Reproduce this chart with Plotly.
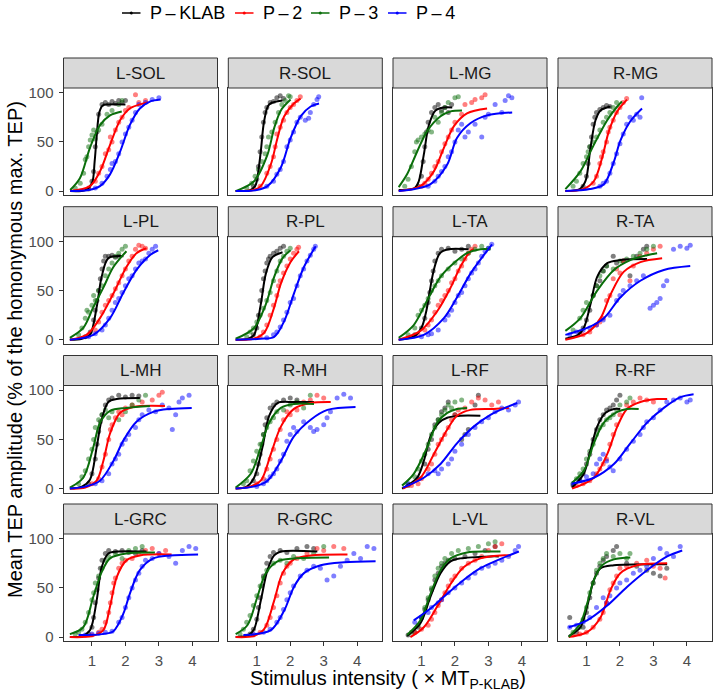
import plotly.graph_objects as go

PANELS = ["L-SOL", "R-SOL", "L-MG", "R-MG",
          "L-PL", "R-PL", "L-TA", "R-TA",
          "L-MH", "R-MH", "L-RF", "R-RF",
          "L-GRC", "R-GRC", "L-VL", "R-VL"]
SERIES = ["P\u2009\u2013\u2009KLAB", "P\u2009\u2013\u20092", "P\u2009\u2013\u20093", "P\u2009\u2013\u20094"]
COLORS = ["#000000", "#FF0000", "#0A6E0A", "#0000FF"]
X_TICKS = [1, 2, 3, 4]
Y_TICKS = [0, 50, 100]

# fitted curves (x, y)
CURVE_KLAB = {
    "L-SOL": [(0.35,0),(0.8,1),(1.0,8),(1.08,30),(1.14,55),(1.22,80),(1.32,87),(1.5,88),(2.0,88)],
    "R-SOL": [(0.37,0),(0.8,1),(0.95,5),(1.0,10),(1.12,40),(1.22,71),(1.37,88),(1.77,92)],
    "L-MG": [(0.32,1),(0.8,3),(0.92,10),(1.07,37),(1.22,67),(1.42,82),(1.67,85),(1.92,85)],
    "R-MG": [(0.37,0),(0.8,2),(0.97,10),(1.12,44),(1.27,72),(1.42,82),(1.72,86)],
    "L-PL": [(0.34,0),(0.7,1),(0.94,5),(1.14,33),(1.29,64),(1.49,83),(1.94,85)],
    "R-PL": [(0.37,0),(0.75,1),(0.92,5),(1.12,36),(1.27,67),(1.47,84),(1.77,89)],
    "L-TA": [(0.32,0),(0.8,4),(1.0,12),(1.15,30),(1.25,50),(1.37,71),(1.55,88),(1.8,92),(2.41,92)],
    "R-TA": [(0.37,1),(0.75,5),(0.92,12),(1.12,36),(1.32,64),(1.62,78),(2.01,81),(2.81,82)],
    "L-MH": [(0.34,0),(0.7,2),(0.94,9),(1.14,42),(1.29,70),(1.49,88),(1.74,91),(2.43,92)],
    "R-MH": [(0.37,0),(0.7,2),(0.92,11),(1.17,42),(1.37,74),(1.62,87),(2.11,88),(2.71,88)],
    "L-RF": [(0.42,0),(0.87,11),(1.07,28),(1.27,53),(1.52,67),(1.77,72),(2.16,74),(2.76,74)],
    "R-RF": [(0.57,1),(0.92,15),(1.12,39),(1.32,63),(1.57,77),(1.82,81),(2.01,81)],
    "L-GRC": [(0.34,0),(0.7,1),(0.94,7),(1.14,37),(1.29,71),(1.49,85),(1.74,87),(2.63,87)],
    "R-GRC": [(0.37,0),(0.75,2),(0.92,8),(1.12,37),(1.32,68),(1.52,83),(1.72,87),(2.81,87)],
    "L-VL": [(0.57,1),(0.97,14),(1.27,41),(1.57,65),(1.87,77),(2.16,80),(3.06,82),(3.31,82)],
    "R-VL": [(0.47,1),(0.82,10),(1.02,31),(1.22,58),(1.42,70),(1.82,73),(3.41,74)],
}
CURVE_P2 = {
    "L-SOL": [(0.35,0),(0.94,5),(1.24,20),(1.54,47),(1.84,72),(2.13,84),(2.53,89),(2.68,90)],
    "R-SOL": [(0.37,0),(0.9,1),(1.12,5),(1.42,27),(1.62,54),(1.82,76),(2.11,89),(2.31,94)],
    "L-MG": [(0.32,0),(0.97,5),(1.37,20),(1.67,44),(1.97,66),(2.36,79),(2.96,84)],
    "R-MG": [(0.37,0),(0.9,2),(1.22,10),(1.47,34),(1.67,61),(1.92,81),(2.21,93)],
    "L-PL": [(0.34,0),(0.84,5),(1.24,22),(1.64,47),(2.03,74),(2.33,88),(2.63,93)],
    "R-PL": [(0.37,0),(0.9,1),(1.22,7),(1.52,33),(1.72,57),(2.01,79),(2.26,90)],
    "L-TA": [(0.32,0),(0.97,9),(1.47,29),(1.87,53),(2.16,74),(2.46,90),(2.56,92)],
    "R-TA": [(0.37,0),(1.02,7),(1.42,22),(1.72,46),(2.11,69),(2.61,79),(3.26,83)],
    "L-MH": [(0.34,0),(0.8,1),(1.14,8),(1.34,28),(1.54,56),(1.84,77),(2.23,83),(3.18,84)],
    "R-MH": [(0.37,0),(0.8,2),(1.12,8),(1.42,35),(1.72,63),(2.11,81),(2.61,87),(3.21,88)],
    "L-RF": [(0.45,0),(0.97,11),(1.37,35),(1.77,60),(2.06,74),(2.46,80),(3.16,81),(3.61,82)],
    "R-RF": [(0.57,0),(1.22,11),(1.62,35),(1.92,63),(2.21,81),(2.61,88),(3.11,91),(3.41,91)],
    "L-GRC": [(0.34,0),(1.0,1),(1.34,7),(1.54,31),(1.74,61),(2.03,78),(2.43,83),(3.38,84)],
    "R-GRC": [(0.37,0),(0.9,1),(1.22,8),(1.52,37),(1.77,65),(2.11,79),(2.61,83),(3.71,84)],
    "L-VL": [(0.67,0),(1.07,10),(1.47,31),(1.87,54),(2.26,71),(2.76,80),(3.36,83),(3.66,83)],
    "R-VL": [(0.47,0),(1.02,5),(1.42,20),(1.72,48),(2.01,65),(2.51,73),(3.41,75)],
}
CURVE_P3 = {
    "L-SOL": [(0.35,1),(0.64,13),(0.94,44),(1.24,67),(1.54,77),(1.89,81)],
    "R-SOL": [(0.37,0),(0.92,10),(1.32,37),(1.52,64),(1.72,82),(2.01,93)],
    "L-MG": [(0.32,4),(0.57,17),(0.87,40),(1.17,61),(1.57,76),(1.87,81),(2.21,82)],
    "R-MG": [(0.37,2),(0.82,20),(1.22,47),(1.62,72),(1.92,86),(2.06,91)],
    "L-PL": [(0.34,2),(0.74,12),(1.04,33),(1.34,53),(1.64,74),(2.03,90)],
    "R-PL": [(0.37,1),(0.92,12),(1.27,36),(1.52,64),(1.77,83),(2.01,91)],
    "L-TA": [(0.32,2),(0.77,15),(1.17,40),(1.57,64),(1.97,78),(2.36,88),(2.76,92),(3.06,92)],
    "R-TA": [(0.37,9),(0.82,22),(1.32,50),(1.82,71),(2.31,81),(2.81,86),(3.11,88)],
    "L-MH": [(0.34,1),(0.74,11),(1.04,42),(1.24,67),(1.54,79),(2.03,82),(2.73,84)],
    "R-MH": [(0.37,1),(0.82,15),(1.12,42),(1.37,67),(1.72,82),(2.11,86),(2.71,86)],
    "L-RF": [(0.42,3),(0.77,15),(1.17,42),(1.47,67),(1.77,77),(2.06,81),(2.36,82)],
    "R-RF": [(0.57,6),(0.92,18),(1.22,46),(1.52,67),(1.92,78),(2.21,81),(2.56,81)],
    "L-GRC": [(0.34,3),(0.74,10),(1.04,41),(1.29,66),(1.54,80),(2.03,85),(2.88,86)],
    "R-GRC": [(0.37,3),(0.72,12),(1.02,41),(1.27,65),(1.62,77),(2.11,80),(3.16,81)],
    "L-VL": [(0.57,2),(0.97,17),(1.27,44),(1.57,68),(1.87,80),(2.36,86),(2.96,87),(3.36,87)],
    "R-VL": [(0.47,0),(0.82,14),(1.02,34),(1.22,58),(1.47,73),(1.82,79),(2.31,81)],
}
CURVE_P4 = {
    "L-SOL": [(0.35,0),(0.9,1),(1.24,5),(1.54,17),(1.84,40),(2.13,67),(2.43,84),(2.73,91),(3.05,93)],
    "R-SOL": [(0.37,0),(1.0,1),(1.32,5),(1.72,24),(2.01,54),(2.31,76),(2.61,86),(2.86,89)],
    "L-MG": [(0.32,0),(0.8,2),(1.27,7),(1.77,27),(2.06,54),(2.46,69),(2.96,77),(3.71,80)],
    "R-MG": [(0.37,0),(1.1,2),(1.52,7),(1.82,30),(2.01,51),(2.31,71),(2.66,84)],
    "L-PL": [(0.34,0),(1.04,5),(1.54,22),(1.94,48),(2.33,71),(2.73,86),(2.98,91)],
    "R-PL": [(0.37,0),(1.1,1),(1.52,3),(1.82,19),(2.11,47),(2.41,74),(2.76,95)],
    "L-TA": [(0.32,0),(1.07,5),(1.67,22),(2.06,43),(2.46,67),(2.86,86),(3.11,97)],
    "R-TA": [(0.37,5),(1.02,12),(1.52,22),(2.01,43),(2.61,60),(3.31,71),(4.1,75)],
    "L-MH": [(0.34,0),(0.8,2),(1.24,8),(1.64,28),(1.94,49),(2.33,68),(2.83,78),(3.33,81),(3.98,82)],
    "R-MH": [(0.37,0),(0.9,2),(1.32,8),(1.72,28),(2.11,53),(2.61,70),(3.11,80),(3.95,83)],
    "L-RF": [(0.45,1),(1.07,11),(1.57,25),(2.06,46),(2.56,63),(3.06,75),(3.56,83),(3.86,87)],
    "R-RF": [(0.57,5),(1.22,11),(1.82,25),(2.31,46),(2.81,67),(3.31,82),(3.81,93),(4.2,96)],
    "L-GRC": [(0.6,2),(1.3,3),(1.64,6),(1.94,24),(2.13,44),(2.43,68),(2.83,80),(3.33,83),(4.17,84)],
    "R-GRC": [(0.6,2),(1.42,7),(1.82,27),(2.11,51),(2.41,65),(2.91,73),(3.61,76),(4.55,77)],
    "L-VL": [(0.77,17),(1.27,29),(1.77,44),(2.26,58),(2.76,70),(3.26,78),(3.91,87)],
    "R-VL": [(0.47,10),(1.02,17),(1.62,32),(2.21,51),(2.81,68),(3.41,82),(3.86,88)],
}

POINTS_KLAB = {
    "L-SOL": [(0.9,2),(1.0,10),(1.05,20),(1.1,45),(1.15,60),(1.2,78),(1.3,88),(1.4,90),(1.5,88),(1.6,91),(1.7,89),(1.8,92),(1.9,90),(2.0,92)],
    "R-SOL": [(0.9,5),(1.0,12),(1.05,25),(1.1,40),(1.15,55),(1.2,70),(1.25,80),(1.3,85),(1.4,90),(1.5,91),(1.6,95),(1.7,97),(1.8,94)],
    "L-MG": [(0.9,5),(1.0,15),(1.05,30),(1.1,45),(1.15,60),(1.2,70),(1.3,80),(1.4,85),(1.5,88),(1.6,82),(1.7,85),(1.8,80),(1.9,88)],
    "R-MG": [(0.9,5),(1.0,15),(1.05,28),(1.1,45),(1.15,55),(1.2,68),(1.25,75),(1.3,80),(1.4,83),(1.5,85),(1.6,87),(1.7,86)],
    "L-PL": [(0.8,3),(0.95,8),(1.05,20),(1.1,30),(1.15,40),(1.2,50),(1.25,62),(1.3,72),(1.35,80),(1.4,85),(1.5,85),(1.6,86),(1.7,84),(1.8,85)],
    "R-PL": [(0.9,5),(1.0,12),(1.05,25),(1.1,40),(1.15,50),(1.2,62),(1.25,70),(1.3,78),(1.35,82),(1.4,85),(1.5,88),(1.6,90),(1.7,93),(1.8,95)],
    "L-TA": [(0.8,5),(1.0,12),(1.1,22),(1.2,38),(1.25,48),(1.3,60),(1.35,70),(1.4,80),(1.5,88),(1.6,92),(1.8,93),(2.0,90),(2.2,92),(2.4,95)],
    "R-TA": [(0.8,8),(0.9,12),(1.0,20),(1.1,30),(1.2,45),(1.3,55),(1.4,60),(1.5,70),(1.6,75),(1.8,85),(1.9,78),(2.1,80),(2.3,65),(2.5,85),(2.7,92),(2.8,95)],
    "L-MH": [(0.9,5),(1.0,15),(1.1,30),(1.15,45),(1.2,58),(1.25,68),(1.3,75),(1.4,85),(1.5,90),(1.6,92),(1.8,95),(2.0,93),(2.2,95),(2.4,94)],
    "R-MH": [(0.9,8),(1.0,15),(1.05,25),(1.1,35),(1.15,45),(1.2,55),(1.25,65),(1.3,72),(1.4,82),(1.5,85),(1.6,88),(1.8,90),(2.0,92),(2.2,90)],
    "L-RF": [(0.6,3),(0.9,10),(1.1,25),(1.2,40),(1.3,50),(1.4,65),(1.5,70),(1.6,78),(1.7,82),(1.8,88),(2.0,75),(2.2,50),(2.3,55),(2.4,60),(2.6,85),(2.7,95)],
    "R-RF": [(0.6,3),(0.8,10),(0.9,15),(1.0,25),(1.1,35),(1.2,50),(1.3,60),(1.4,70),(1.5,75),(1.6,80),(1.7,82),(1.8,85),(1.9,90),(2.0,95)],
    "L-GRC": [(0.9,3),(1.0,10),(1.05,20),(1.1,35),(1.15,48),(1.2,60),(1.25,70),(1.3,78),(1.4,85),(1.5,88),(1.7,87),(1.9,88),(2.1,86),(2.3,85),(2.5,88)],
    "R-GRC": [(0.8,3),(0.9,8),(1.0,18),(1.05,30),(1.1,40),(1.15,52),(1.2,62),(1.3,75),(1.4,82),(1.5,86),(1.7,88),(1.9,86),(2.2,90),(2.5,92),(2.7,90)],
    "L-VL": [(0.6,2),(0.8,5),(0.9,10),(1.0,20),(1.1,28),(1.2,38),(1.3,48),(1.4,58),(1.5,65),(1.6,72),(1.7,75),(1.8,78),(2.0,80),(2.3,82),(2.6,85),(2.9,88),(3.2,92)],
    "R-VL": [(0.5,20),(0.7,5),(0.9,10),(1.0,25),(1.1,40),(1.2,55),(1.3,65),(1.4,72),(1.5,78),(1.6,82),(1.8,88),(1.9,92),(2.2,75),(2.5,72),(2.8,68),(3.0,65),(3.2,62),(3.4,70)],
}
POINTS_P2 = {
    "L-SOL": [(0.9,3),(1.1,10),(1.2,18),(1.3,25),(1.4,38),(1.5,42),(1.55,55),(1.6,50),(1.7,62),(1.8,70),(1.9,75),(2.0,82),(2.1,85),(2.3,98),(2.4,90),(2.6,92)],
    "R-SOL": [(1.1,5),(1.3,18),(1.4,25),(1.5,35),(1.55,45),(1.6,58),(1.7,65),(1.8,72),(1.9,80),(2.0,85),(2.1,88),(2.2,92),(2.3,96)],
    "L-MG": [(1.0,5),(1.1,8),(1.2,12),(1.3,18),(1.4,25),(1.5,30),(1.6,40),(1.7,48),(1.8,55),(1.9,62),(2.0,70),(2.2,78),(2.3,88),(2.5,90),(2.6,93),(2.8,95),(2.9,98)],
    "R-MG": [(1.2,8),(1.3,15),(1.4,28),(1.45,35),(1.5,40),(1.6,50),(1.65,60),(1.7,65),(1.8,72),(1.9,80),(2.0,85),(2.1,90),(2.2,94)],
    "L-PL": [(0.9,5),(1.1,10),(1.2,18),(1.3,28),(1.4,35),(1.5,40),(1.6,45),(1.7,52),(1.8,58),(1.9,65),(2.0,72),(2.1,80),(2.2,85),(2.3,92),(2.4,96),(2.5,95),(2.6,93)],
    "R-PL": [(1.1,3),(1.2,8),(1.3,15),(1.4,25),(1.5,35),(1.6,45),(1.65,55),(1.7,60),(1.8,68),(1.9,75),(2.0,82),(2.1,88),(2.2,92),(2.25,94)],
    "L-TA": [(0.9,5),(1.1,10),(1.2,15),(1.3,20),(1.4,28),(1.5,35),(1.6,40),(1.7,45),(1.8,50),(1.9,58),(2.0,62),(2.1,70),(2.2,75),(2.3,82),(2.4,88),(2.5,92),(2.6,95)],
    "R-TA": [(0.9,5),(1.1,8),(1.3,15),(1.4,18),(1.5,22),(1.6,40),(1.7,45),(1.8,62),(1.9,72),(2.0,68),(2.1,80),(2.3,60),(2.4,75),(2.6,85),(2.8,88),(3.0,92),(3.2,95)],
    "L-MH": [(1.0,5),(1.2,10),(1.3,22),(1.4,35),(1.5,50),(1.55,60),(1.6,65),(1.7,72),(1.8,78),(1.9,75),(2.0,82),(2.2,85),(2.5,88),(2.8,90),(3.0,95),(3.1,98)],
    "R-MH": [(1.0,5),(1.2,10),(1.3,20),(1.4,30),(1.5,40),(1.6,50),(1.7,60),(1.8,70),(1.9,78),(2.0,75),(2.2,80),(2.4,88),(2.6,90),(2.8,95),(3.0,92)],
    "L-RF": [(0.7,3),(0.9,5),(1.0,10),(1.2,20),(1.3,25),(1.4,35),(1.5,45),(1.6,50),(1.7,55),(1.8,62),(1.9,70),(2.0,75),(2.1,80),(2.3,82),(2.5,88),(2.7,92),(2.9,90),(3.1,85),(3.3,88)],
    "R-RF": [(0.7,3),(0.9,5),(1.1,8),(1.3,15),(1.4,20),(1.5,25),(1.6,30),(1.7,45),(1.8,55),(1.9,65),(2.0,75),(2.2,85),(2.4,88),(2.6,92),(2.8,90),(3.0,88)],
    "L-GRC": [(1.0,2),(1.2,5),(1.3,8),(1.4,15),(1.5,25),(1.55,35),(1.6,45),(1.65,55),(1.7,60),(1.8,70),(1.9,75),(2.0,78),(2.2,80),(2.4,85),(2.6,88),(2.8,90),(3.0,85),(3.2,88)],
    "R-GRC": [(0.9,2),(1.1,5),(1.3,12),(1.4,20),(1.5,30),(1.6,42),(1.7,55),(1.8,65),(1.9,72),(2.0,75),(2.2,80),(2.5,85),(2.8,90),(3.0,88),(3.3,92),(3.6,90)],
    "L-VL": [(0.8,5),(1.0,8),(1.2,12),(1.3,18),(1.4,25),(1.5,32),(1.6,38),(1.7,45),(1.8,52),(1.9,58),(2.0,62),(2.2,70),(2.4,75),(2.6,78),(2.8,82),(3.0,88),(3.2,92),(3.4,95)],
    "R-VL": [(0.6,2),(0.8,3),(1.0,5),(1.2,10),(1.4,18),(1.5,25),(1.6,35),(1.7,48),(1.8,55),(1.9,62),(2.0,70),(2.2,72),(2.5,75),(2.8,78),(3.0,72),(3.2,70),(3.35,60)],
}
POINTS_P3 = {
    "L-SOL": [(0.5,3),(0.65,8),(0.75,18),(0.8,32),(0.85,35),(0.9,45),(0.95,52),(1.0,57),(1.05,62),(1.1,53),(1.2,62),(1.3,68),(1.45,78),(1.6,82),(1.8,88),(1.9,92)],
    "R-SOL": [(0.7,3),(0.85,8),(0.95,15),(1.05,22),(1.15,30),(1.25,38),(1.3,45),(1.35,55),(1.45,60),(1.55,70),(1.65,80),(1.75,88),(1.85,92),(1.95,97),(2.0,96)],
    "L-MG": [(0.5,5),(0.6,12),(0.7,25),(0.8,40),(0.85,50),(0.9,52),(1.0,55),(1.1,58),(1.2,62),(1.3,60),(1.4,75),(1.5,70),(1.6,80),(1.7,85),(1.8,90),(2.0,95),(2.1,96)],
    "R-MG": [(0.6,5),(0.7,10),(0.8,18),(0.9,28),(1.0,35),(1.05,40),(1.1,45),(1.2,50),(1.3,55),(1.4,62),(1.5,70),(1.6,75),(1.7,80),(1.8,85),(1.9,90)],
    "L-PL": [(0.6,5),(0.7,12),(0.8,22),(0.85,30),(0.9,28),(1.0,35),(1.05,45),(1.1,40),(1.2,50),(1.3,55),(1.4,65),(1.5,72),(1.6,78),(1.7,85),(1.8,88),(1.9,92),(2.0,95)],
    "R-PL": [(0.7,3),(0.8,8),(0.9,12),(1.0,18),(1.1,25),(1.2,32),(1.3,40),(1.4,48),(1.5,60),(1.6,70),(1.7,80),(1.8,85),(1.9,90),(2.0,93)],
    "L-TA": [(0.6,5),(0.8,12),(0.9,25),(1.0,30),(1.1,35),(1.2,42),(1.3,50),(1.4,55),(1.5,60),(1.6,65),(1.8,72),(2.0,78),(2.2,82),(2.4,88),(2.6,92),(2.8,95),(3.0,93)],
    "R-TA": [(0.6,10),(0.8,22),(0.9,30),(1.0,38),(1.2,45),(1.3,55),(1.4,65),(1.5,70),(1.6,75),(1.8,72),(2.0,80),(2.2,82),(2.4,85),(2.6,88),(2.8,92),(3.0,95)],
    "L-MH": [(0.6,5),(0.7,12),(0.8,18),(0.9,30),(1.0,40),(1.05,50),(1.1,62),(1.2,70),(1.3,75),(1.4,80),(1.5,72),(1.6,78),(1.8,70),(2.0,78),(2.2,85),(2.4,90),(2.6,95)],
    "R-MH": [(0.6,5),(0.7,8),(0.8,18),(0.9,28),(1.0,38),(1.1,45),(1.2,55),(1.3,62),(1.4,68),(1.5,72),(1.6,78),(1.8,80),(2.0,85),(2.2,88),(2.4,82),(2.6,95)],
    "L-RF": [(0.6,5),(0.8,12),(0.9,20),(1.0,28),(1.1,35),(1.2,45),(1.3,55),(1.4,62),(1.5,70),(1.6,75),(1.7,80),(1.8,85),(1.9,82),(2.0,88),(2.2,90)],
    "R-RF": [(0.6,5),(0.7,10),(0.8,15),(0.9,20),(1.0,30),(1.1,38),(1.2,45),(1.3,55),(1.4,62),(1.5,65),(1.6,70),(1.7,72),(1.8,75),(1.9,80),(2.0,85),(2.2,88),(2.3,92)],
    "L-GRC": [(0.5,3),(0.6,5),(0.7,8),(0.8,15),(0.9,25),(1.0,38),(1.05,45),(1.1,55),(1.2,62),(1.3,70),(1.4,78),(1.5,82),(1.7,85),(1.9,80),(2.1,88),(2.3,90),(2.5,92)],
    "R-GRC": [(0.5,3),(0.6,8),(0.7,15),(0.8,22),(0.9,32),(1.0,42),(1.1,52),(1.2,60),(1.3,68),(1.5,75),(1.7,78),(1.9,75),(2.1,82),(2.4,80),(2.7,85),(3.0,92)],
    "L-VL": [(0.7,5),(0.9,12),(1.0,20),(1.1,30),(1.2,40),(1.3,50),(1.4,62),(1.5,70),(1.6,75),(1.7,80),(1.9,85),(2.1,88),(2.4,90),(2.7,92),(3.0,95),(3.2,97)],
    "R-VL": [(0.6,5),(0.8,10),(0.9,18),(1.0,30),(1.1,45),(1.2,55),(1.3,68),(1.4,75),(1.5,80),(1.6,85),(1.8,82),(2.0,85),(2.2,80),(2.3,85)],
}
POINTS_P4 = {
    "L-SOL": [(1.1,3),(1.3,8),(1.45,15),(1.55,22),(1.6,28),(1.7,30),(1.8,38),(1.9,50),(2.0,58),(2.1,65),(2.2,72),(2.3,80),(2.4,88),(2.6,90),(2.8,93),(3.0,95)],
    "R-SOL": [(1.3,5),(1.5,10),(1.6,17),(1.7,22),(1.8,30),(1.9,45),(2.0,52),(2.1,60),(2.2,70),(2.3,75),(2.45,72),(2.55,74),(2.6,80),(2.7,88),(2.8,93),(2.85,96)],
    "L-MG": [(1.2,5),(1.4,10),(1.5,15),(1.6,20),(1.7,25),(1.8,35),(1.9,40),(2.0,50),(2.1,62),(2.2,68),(2.3,55),(2.4,60),(2.6,68),(2.8,55),(2.9,75),(3.0,78),(3.2,88),(3.4,80),(3.5,92),(3.6,97),(3.7,95)],
    "R-MG": [(1.4,5),(1.5,8),(1.6,10),(1.7,18),(1.8,28),(1.9,38),(2.0,48),(2.1,58),(2.2,68),(2.3,75),(2.4,72),(2.5,78),(2.6,75),(2.65,95)],
    "L-PL": [(0.9,3),(1.1,6),(1.3,10),(1.4,15),(1.5,22),(1.6,30),(1.7,38),(1.8,42),(1.9,48),(2.0,55),(2.1,62),(2.2,65),(2.3,72),(2.4,78),(2.5,80),(2.6,82),(2.7,88),(2.8,92),(2.9,95)],
    "R-PL": [(1.3,2),(1.5,5),(1.6,8),(1.7,13),(1.8,20),(1.9,28),(2.0,38),(2.1,42),(2.2,55),(2.3,65),(2.4,72),(2.5,80),(2.6,86),(2.7,92),(2.75,95)],
    "L-TA": [(1.0,3),(1.2,5),(1.3,6),(1.5,10),(1.7,20),(1.8,25),(1.9,30),(2.0,38),(2.1,45),(2.2,48),(2.3,55),(2.4,62),(2.5,68),(2.6,72),(2.7,78),(2.8,85),(2.9,90),(3.0,93),(3.1,97)],
    "R-TA": [(0.5,5),(0.7,8),(0.9,10),(1.1,12),(1.3,15),(1.5,20),(1.7,25),(1.9,40),(2.0,45),(2.1,50),(2.3,55),(2.5,60),(2.7,65),(2.9,32),(3.0,35),(3.1,38),(3.2,42),(3.3,55),(3.4,60),(3.6,92),(3.8,95),(4.0,93),(4.1,96)],
    "L-MH": [(1.1,5),(1.3,8),(1.5,15),(1.6,25),(1.7,30),(1.8,35),(1.9,45),(2.0,50),(2.1,55),(2.3,62),(2.4,70),(2.5,75),(2.7,80),(2.9,78),(3.1,85),(3.3,82),(3.4,60),(3.5,75),(3.6,88),(3.7,92),(3.9,95)],
    "R-MH": [(1.0,2),(1.2,5),(1.3,8),(1.4,12),(1.5,15),(1.6,20),(1.7,28),(1.8,35),(1.9,48),(2.0,55),(2.1,62),(2.2,58),(2.4,68),(2.6,62),(2.7,58),(2.8,60),(3.0,65),(3.1,72),(3.2,78),(3.4,92),(3.6,96),(3.8,92)],
    "L-RF": [(0.6,5),(0.9,10),(1.2,15),(1.4,18),(1.5,15),(1.6,20),(1.8,25),(1.9,30),(2.0,38),(2.2,45),(2.4,55),(2.6,62),(2.8,68),(3.0,72),(3.2,78),(3.4,82),(3.6,80),(3.8,85),(3.9,88)],
    "R-RF": [(0.6,5),(0.8,8),(1.0,12),(1.2,15),(1.3,25),(1.4,30),(1.5,35),(1.6,28),(1.7,22),(1.8,18),(2.0,30),(2.2,40),(2.4,48),(2.6,55),(2.7,62),(2.8,68),(3.0,72),(3.2,80),(3.4,88),(3.6,90),(3.8,92),(4.0,88),(4.1,90)],
    "L-GRC": [(0.8,2),(1.0,3),(1.2,4),(1.4,5),(1.6,6),(1.8,15),(1.9,20),(2.0,30),(2.1,40),(2.2,50),(2.3,58),(2.4,65),(2.5,72),(2.6,78),(2.8,80),(3.0,85),(3.3,82),(3.5,75),(3.7,88),(3.9,92),(4.1,90)],
    "R-GRC": [(0.9,3),(1.2,5),(1.4,8),(1.6,15),(1.7,20),(1.8,28),(1.9,38),(2.0,45),(2.1,52),(2.3,62),(2.5,68),(2.7,72),(2.9,70),(3.1,58),(3.3,62),(3.5,72),(3.7,78),(3.9,85),(4.1,80),(4.3,92),(4.5,90)],
    "L-VL": [(0.8,15),(1.0,20),(1.2,25),(1.3,30),(1.5,35),(1.6,38),(1.8,45),(2.0,50),(2.2,55),(2.4,60),(2.6,65),(2.8,70),(3.0,72),(3.2,75),(3.4,78),(3.6,82),(3.8,88),(3.9,92)],
    "R-VL": [(0.5,10),(0.7,12),(0.9,15),(1.1,20),(1.3,30),(1.5,40),(1.6,35),(1.7,42),(1.9,50),(2.0,55),(2.2,58),(2.4,65),(2.6,68),(2.8,72),(3.0,80),(3.2,90),(3.4,85),(3.6,82),(3.8,92)],
}

CURVES = [CURVE_KLAB, CURVE_P2, CURVE_P3, CURVE_P4]
POINTS = [POINTS_KLAB, POINTS_P2, POINTS_P3, POINTS_P4]

W, H = 714, 692
FONT = "Liberation Sans, Arial, sans-serif"
COL_LEFT = [63.5, 228.3, 393, 558]
PANEL_W = 154
STRIP_TOP = [58, 206.7, 355.5, 504]
STRIP_H = 30
PLOT_H = 107
BORDER = "#333333"

fig = go.Figure()
layout_axes = {}
shapes = []
annotations = []

for i, name in enumerate(PANELS):
    r, c = divmod(i, 4)
    k = i + 1
    xa = "x" if k == 1 else f"x{k}"
    ya = "y" if k == 1 else f"y{k}"
    x0 = COL_LEFT[c] / W
    x1 = (COL_LEFT[c] + PANEL_W) / W
    ytop = STRIP_TOP[r] + STRIP_H
    y1 = 1 - ytop / H
    y0 = 1 - (ytop + PLOT_H) / H
    outer_x = (r == 3)
    outer_y = (c == 0)
    layout_axes[f"xaxis{'' if k == 1 else k}"] = dict(
        domain=[x0, x1], anchor=ya, range=[0.15, 4.75], automargin=False,
        tickvals=X_TICKS, showticklabels=outer_x,
        ticks="outside" if outer_x else "", ticklen=4, tickcolor=BORDER,
        ticklabelstandoff=2,
        tickfont=dict(size=15, color="#4D4D4D", family=FONT),
        showgrid=False, zeroline=False, showline=True, mirror=True,
        linecolor=BORDER, linewidth=1,
    )
    layout_axes[f"yaxis{'' if k == 1 else k}"] = dict(
        domain=[y0, y1], anchor=xa, range=[-4, 104.8], automargin=False,
        tickvals=Y_TICKS, showticklabels=outer_y,
        ticks="outside" if outer_y else "", ticklen=4, tickcolor=BORDER,
        ticklabelstandoff=2,
        tickfont=dict(size=15, color="#4D4D4D", family=FONT),
        showgrid=False, zeroline=False, showline=True, mirror=True,
        linecolor=BORDER, linewidth=1,
    )
    # strip
    shapes.append(dict(type="rect", xref="paper", yref="paper",
                       x0=x0, x1=x1, y0=1 - ytop / H, y1=1 - STRIP_TOP[r] / H,
                       fillcolor="#D9D9D9", line=dict(color=BORDER, width=1), layer="above"))
    annotations.append(dict(text=name, xref="paper", yref="paper",
                            x=(x0 + x1) / 2, y=1 - (STRIP_TOP[r] + STRIP_H / 2) / H,
                            showarrow=False, xanchor="center", yanchor="middle",
                            font=dict(size=17, color="#1A1A1A", family=FONT)))
    # points first, then curves
    for s in range(4):
        pts = POINTS[s][name]
        fig.add_trace(go.Scatter(
            x=[p[0] for p in pts], y=[p[1] for p in pts], mode="markers",
            marker=dict(color=COLORS[s], size=5, opacity=0.5, line=dict(width=0)),
            xaxis=xa, yaxis=ya, showlegend=False, hoverinfo="skip"))
    for s in range(4):
        cv = CURVES[s][name]
        fig.add_trace(go.Scatter(
            x=[p[0] for p in cv], y=[p[1] for p in cv], mode="lines",
            line=dict(color=COLORS[s], width=2, shape="spline", smoothing=0.9),
            xaxis=xa, yaxis=ya, showlegend=False, hoverinfo="skip"))

# legend (key glyphs + labels across the top)
LEG_Y = 1 - 13 / H
LEG_LINE_X = [122, 235, 311, 388]
for s in range(4):
    lx = LEG_LINE_X[s]
    shapes.append(dict(type="line", xref="paper", yref="paper",
                       x0=lx / W, x1=(lx + 18.5) / W, y0=LEG_Y, y1=LEG_Y,
                       line=dict(color=COLORS[s], width=1.5)))
    shapes.append(dict(type="circle", xref="paper", yref="paper",
                       x0=(lx + 7.7) / W, x1=(lx + 10.8) / W,
                       y0=LEG_Y - 1.5 / H, y1=LEG_Y + 1.5 / H,
                       fillcolor=COLORS[s], line=dict(color=COLORS[s], width=0)))
    annotations.append(dict(text=SERIES[s], xref="paper", yref="paper",
                            x=(lx + 26) / W, y=LEG_Y, showarrow=False,
                            xanchor="left", yanchor="middle",
                            font=dict(size=18, color="#000000", family=FONT)))

annotations.append(dict(text="Stimulus intensity ( \u00d7 MT<sub>P-KLAB</sub>)",
                        xref="paper", yref="paper", x=388 / W, y=1 - 679.5 / H,
                        showarrow=False, xanchor="center", yanchor="middle",
                        font=dict(size=20, color="#000000", family=FONT)))
annotations.append(dict(text="Mean TEP amplitude (% of the homonymous max. TEP)",
                        xref="paper", yref="paper", x=15 / W, y=1 - 350 / H,
                        showarrow=False, xanchor="center", yanchor="middle", textangle=-90,
                        font=dict(size=20, color="#000000", family=FONT)))

fig.update_layout(
    template="none",
    width=W, height=H,
    margin=dict(l=0, r=0, t=0, b=0, autoexpand=False),
    paper_bgcolor="white", plot_bgcolor="white",
    font=dict(family=FONT),
    showlegend=False,
    shapes=shapes, annotations=annotations,
    **layout_axes,
)

# place the figure flush with the window's top-left corner (no default body margin)
fig.write_html("out.html",
               config={"displayModeBar": False, "staticPlot": True},
               post_script="document.body.style.margin='0';document.body.style.overflow='hidden';")
